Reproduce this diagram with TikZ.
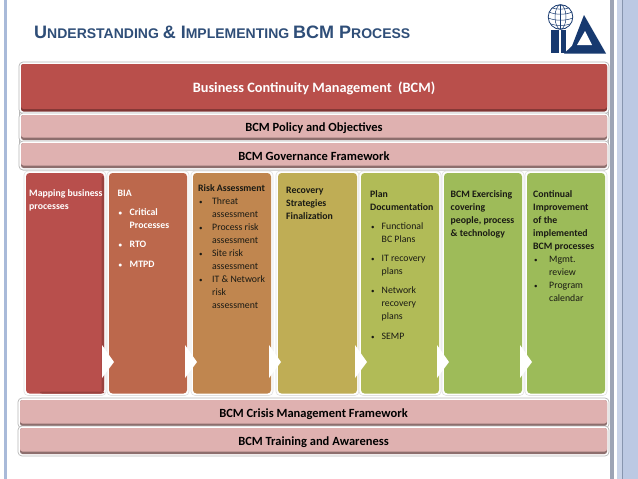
\documentclass[tikz,border=0pt]{standalone}
\usepackage{fontspec}
\setmainfont{Carlito}
\newfontfamily\titlefont{Liberation Sans}[BoldFont={Liberation Sans Bold}]
\definecolor{titleblue}{HTML}{2F4E78}
\definecolor{logoblue}{HTML}{17396F}
\definecolor{stripA}{HTML}{BCC9E3}
\definecolor{stripB}{HTML}{C9D3E8}
\definecolor{stripL}{HTML}{A9BAD9}
\definecolor{redbar}{HTML}{B94F4B}
\definecolor{redbarD}{HTML}{7E3533}
\definecolor{pinkbar}{HTML}{DFB1B0}
\definecolor{pinkbarD}{HTML}{8D6E6D}
\definecolor{colA}{HTML}{B84F4C}
\definecolor{colB}{HTML}{BC684C}
\definecolor{colC}{HTML}{C0864F}
\definecolor{colD}{HTML}{BFAD55}
\definecolor{colE}{HTML}{B1BB57}
\definecolor{colF}{HTML}{9EBB59}
\definecolor{colG}{HTML}{9CBB59}
\definecolor{inktxt}{HTML}{1A1A14}
\tikzset{
  halo/.style={fill=white,draw=black!28,line width=.7pt,rounded corners=4pt},
  colhalo/.style={fill=white,draw=black!12,line width=.6pt,rounded corners=4pt},
  barlabel/.style={font=\bfseries\fontsize{12.5}{14}\selectfont,text=black,inner sep=0pt},
  coltext/.style={anchor=base west,inner sep=0pt,font=\fontsize{9.8}{13}\selectfont,text=inktxt},
  chev/.style={fill=white,draw=none}
}
% bar: name, x0,y0,x1,y1, colour, dark colour, label, label style
\newcommand{\bcmbar}[9]{%
  \draw[halo] (#2-2,#3-2) rectangle (#4+2,#5+3);
  \fill[#7,rounded corners=2.5pt] (#2,#3) rectangle (#4,#5+1);
  \fill[#6,rounded corners=2.5pt] (#2,#3) rectangle (#4,#5-1.5);
  \node[barlabel,#9] (#1) at ({(#2+#4)/2},{(#3+#5)/2+1.5}) {#8};
}
\newcommand{\bcmcol}[5]{%
  \draw[colhalo] (#2-2,173-2) rectangle (#3+2,393.5+2);
  \fill[#4,rounded corners=3.5pt] (#2,173) rectangle (#3,393.5);
  \coordinate (#1) at (#3,362);
}
\newcommand{\bcmchev}[1]{%
  \fill[chev] ([shift={(-2,-17)}]#1) -- ([shift={(10,0)}]#1) -- ([shift={(-2,16)}]#1) -- cycle;
}
\newcommand{\bulletline}[2]{\par\vspace{#1}\leftskip=#2\noindent\llap{\makebox[#2][l]{\hspace{1pt}{\fontsize{7}{7}\selectfont\textbullet}}}}
\begin{document}
\begin{tikzpicture}[x=1pt,y=-1pt]
\useasboundingbox (0,0) rectangle (638,479);
\fill[white] (0,0) rectangle (638,479);
% slide frame strips
\fill[stripL] (4,0) rectangle (7,479);
\fill[black!22!stripB] (610,0) rectangle (613.5,479);
\fill[stripB] (617,0) rectangle (623,479);
\fill[stripA] (623,0) rectangle (638,479);
\draw[stripL!80!black,line width=.6pt] (622.5,0) -- (622.5,479);
% title
\node[anchor=base west,inner sep=0pt,text=titleblue,font=\titlefont\bfseries] (title) at (34,38)
 {\fontsize{18}{20}\selectfont U\fontsize{14}{20}\selectfont NDERSTANDING \fontsize{18}{20}\selectfont \&
  I\fontsize{14}{20}\selectfont MPLEMENTING \fontsize{18}{20}\selectfont BCM P\fontsize{14}{20}\selectfont ROCESS};
% logo
\begin{scope}[logoblue]
\fill[logoblue] (551,30) rectangle (559,53);
\fill[logoblue] (561,30) rectangle (566,53);
\fill[logoblue] (584,15) -- (606,53.5) -- (564,53.5) -- (572,46) -- cycle;
\fill[white] (585,31) -- (592,45) -- (577,45) -- cycle;
\fill[logoblue] (571,47) rectangle (593,50);
\fill[white] (550,28) rectangle (567,30);
\fill[white] (560.5,16) circle (13.5);
\draw[line width=.8pt] (560.5,17) circle (12.3);
\draw[line width=.5pt] (560.5,17) ellipse (5.5 and 12.3);
\draw[line width=.5pt] (560.5,4.7) -- (560.5,29.3);
\draw[line width=.5pt] (549,12) .. controls (555,15) and (566,15) .. (572,12);
\draw[line width=.5pt] (548.5,18) .. controls (555,21) and (566,21) .. (572.5,18);
\draw[line width=.5pt] (551,24) .. controls (556,26) and (565,26) .. (570,24);
\draw[line width=.5pt] (552,8) .. controls (556,9.5) and (565,9.5) .. (569,8);
\end{scope}
% bars
\draw[halo] (19.5,62.5) rectangle (608.5,170);
\bcmbar{top}{21}{64}{607}{110.5}{redbar}{redbarD}{\raisebox{-2.5pt}{Business Continuity Management\ \ (BCM)}}{text=white,font=\bfseries\fontsize{14.3}{16}\selectfont}
\bcmbar{policy}{21}{115}{607}{139}{pinkbar}{pinkbarD}{BCM Policy and Objectives}{}
\bcmbar{gov}{21}{143}{607}{167}{pinkbar}{pinkbarD}{BCM Governance Framework}{}
\bcmbar{crisis}{20}{400}{607}{425}{pinkbar}{pinkbarD}{BCM Crisis Management Framework}{}
\bcmbar{train}{20}{428}{607}{453}{pinkbar}{pinkbarD}{BCM Training and Awareness}{}
% columns
\bcmcol{c1}{26}{104}{colA}{}
\fill[redbarD!55!colA,rounded corners=2pt] (101.5,176) rectangle (104,392);
\fill[redbarD!55!colA,rounded corners=2pt] (40,391.5) rectangle (104,393.5);
\bcmcol{c2}{109}{187}{colB}{}
\bcmcol{c3}{193}{271}{colC}{}
\bcmcol{c4}{278}{357}{colD}{}
\bcmcol{c5}{361}{439}{colE}{}
\bcmcol{c6}{444}{522}{colF}{}
\bcmcol{c7}{527}{605}{colG}{}
\foreach \c in {c1,c2,c3,c4,c5,c6}{\bcmchev{\c}}
% column text
\node[coltext,text=white] (t1) at (29,196) {\parbox[t]{76pt}{\raggedright\bfseries Mapping business\\processes}};
\node[coltext,text=white] (t2) at (117.5,196) {\parbox[t]{66pt}{\raggedright\bfseries BIA
  \bulletline{6pt}{12pt}Critical\\Processes
  \bulletline{6pt}{12pt}RTO
  \bulletline{7pt}{12pt}MTPD}};
\node[coltext] (t3) at (198,191) {\parbox[t]{72pt}{\raggedright\textbf{Risk Assessment}
  \bulletline{0pt}{14pt}Threat\\assessment
  \bulletline{0pt}{14pt}Process risk\\assessment
  \bulletline{0pt}{14pt}Site risk\\assessment
  \bulletline{0pt}{14pt}IT \& Network\\risk\\assessment}};
\node[coltext] (t4) at (286,193) {\parbox[t]{68pt}{\raggedright\bfseries Recovery\\Strategies\\Finalization}};
\node[coltext] (t5) at (370,197) {\parbox[t]{68pt}{\raggedright\textbf{Plan\\Documentation}
  \bulletline{6pt}{11.5pt}Functional\\BC Plans
  \bulletline{6pt}{11.5pt}IT recovery\\plans
  \bulletline{6pt}{11.5pt}Network\\recovery\\plans
  \bulletline{7pt}{11.5pt}SEMP}};
\node[coltext] (t6) at (450.5,197) {\parbox[t]{70pt}{\raggedright\bfseries BCM Exercising\\covering\\people, process\\\& technology}};
\node[coltext] (t7) at (533,197) {\parbox[t]{70pt}{\raggedright\textbf{Continual\\Improvement\\of the\\implemented\\BCM processes}
  \bulletline{0pt}{16pt}Mgmt.\\review
  \bulletline{0pt}{16pt}Program\\calendar}};
\end{tikzpicture}
\end{document}
